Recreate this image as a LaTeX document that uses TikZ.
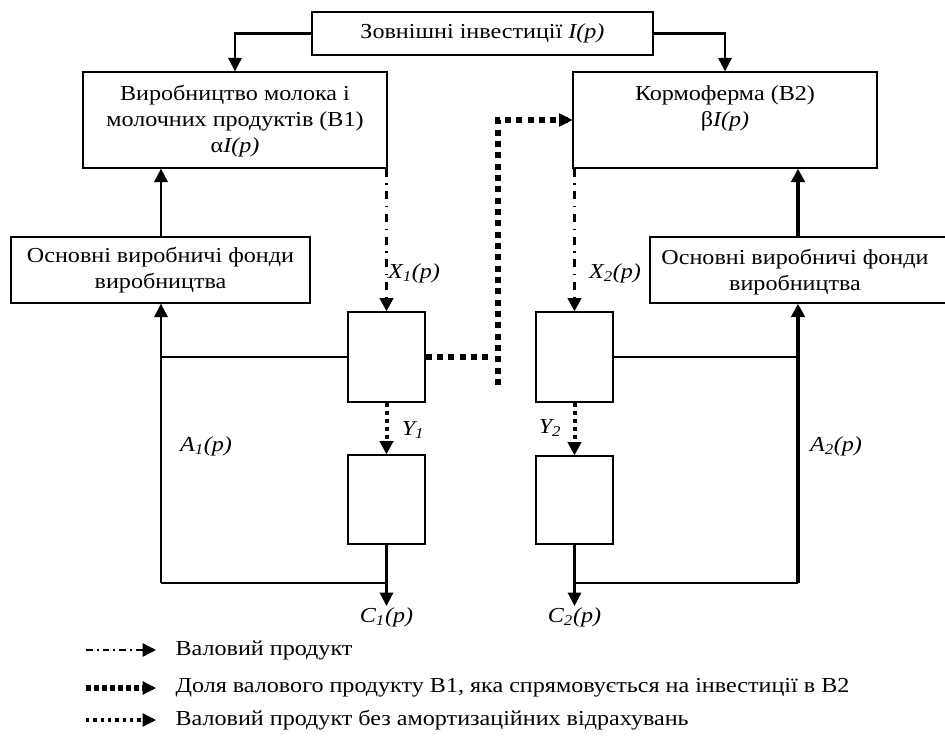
\documentclass[tikz,border=0pt]{standalone}
\usepackage{fontspec}
\setmainfont[FakeStretch=1.13]{Liberation Serif}
\usetikzlibrary{arrows.meta}
\begin{document}
\begin{tikzpicture}[x=0.75pt,y=-0.75pt,
  font=\fontsize{16}{19.5}\selectfont,
  box/.style={draw,line width=1pt,inner sep=0pt},
  lbl/.style={inner sep=1pt},
  tip/.style={-{Triangle[length=10pt,width=10pt]}},
  plainln/.style={line width=1.2pt},
  arr/.style={tip,line width=1.6pt},
  thickarr/.style={tip,line width=3pt},
  gross/.style={tip,line width=2.4pt,dash pattern=on 6pt off 5pt on 1pt off 5pt},
  share/.style={line width=4.5pt,dash pattern=on 4.5pt off 4pt},
  dotln/.style={tip,line width=3pt,dash pattern=on 3pt off 3pt},
]
\useasboundingbox (0,0) rectangle (945,735);

% boxes
\node[box,minimum width=255.75pt,minimum height=32.25pt] (top) at (482.5,33.5) {Зовнішні інвестиції \textit{I(p)}};
\node[box,minimum width=228pt,minimum height=72pt] (b1) at (235,120) {};
\node[align=center,lbl] (b1t) at (235,121) {Виробництво молока і\\молочних продуктів (В1)\\α\textit{I(p)}};
\node[box,minimum width=228pt,minimum height=72pt] (b2) at (725,120) {};
\node[align=center,lbl,anchor=north] (b2t) at (725,84) {Кормоферма (В2)\\β\textit{I(p)}};
\node[box,minimum width=224.25pt,minimum height=49.5pt,align=center] (ovf1) at (160.5,270) {Основні виробничі фонди\\виробництва};
\node[box,minimum width=225pt,minimum height=49.5pt] (ovf2) at (800,270) {};
\node[align=center,lbl] (ovf2t) at (795,272) {Основні виробничі фонди\\виробництва};
\node[box,minimum width=57.75pt,minimum height=67.5pt] (sb1) at (386.5,357) {};
\node[box,minimum width=57.75pt,minimum height=66.75pt] (lb1) at (386.5,499.5) {};
\node[box,minimum width=57.75pt,minimum height=67.5pt] (sb2) at (574.5,357) {};
\node[box,minimum width=57.75pt,minimum height=66pt] (lb2) at (574.5,500) {};

% labels
\node[lbl] (x1) at (414,273) {\textit{X\textsubscript{1}(p)}};
\node[lbl] (x2) at (615,273) {\textit{X\textsubscript{2}(p)}};
\node[lbl] (y1) at (413,430) {\textit{Y\textsubscript{1}}};
\node[lbl] (y2) at (550,428) {\textit{Y\textsubscript{2}}};
\node[lbl] (a1) at (206,446) {\textit{A\textsubscript{1}(p)}};
\node[lbl] (a2) at (836,446) {\textit{A\textsubscript{2}(p)}};
\node[lbl,anchor=north] (c1) at (386.5,606) {\textit{C\textsubscript{1}(p)}};
\node[lbl,anchor=north] (c2) at (574.5,606) {\textit{C\textsubscript{2}(p)}};

\coordinate (l) at (161,583);
\coordinate (r) at (798,583);
\coordinate (sh1) at (490,357);
\coordinate (sh2) at (498,385);

% investments
\draw[arr] (top.west) -| (b1.north);
\draw[arr] (top.east) -| (b2.north);

% left side
\draw[arr] (ovf1.north -| l) -- (b1.south -| l);
\draw[gross] (sb1.north |- b1.south) -- (sb1.north);
\draw[dotln] (sb1.south) -- (lb1.north);
\draw[plainln] (sb1.west) -- (sb1.west -| l);
\draw[plainln] (l) -- (lb1.south |- l);
\draw[arr] (l) -- (ovf1.south -| l);
\draw[arr] (lb1.south) -- (c1.north);

% right side
\draw[thickarr] (ovf2.north -| r) -- (b2.south -| r);
\draw[gross] (sb2.north |- b2.south) -- (sb2.north);
\draw[dotln] (sb2.south) -- (lb2.north);
\draw[plainln] (sb2.east) -- (sb2.east -| r);
\draw[plainln] (lb2.south |- r) -- (r);
\draw[thickarr] (r) -- (ovf2.south -| r);
\draw[arr] (lb2.south) -- (c2.north);

% share B1 -> B2
\draw[share] (sb1.east) -- (sh1);
\draw[share] (sh2) |- (b2.west);
\draw[-{Triangle[length=10pt,width=10pt]},line width=1pt] ([xshift=-8pt]b2.west) -- (b2.west);

% legend
\coordinate (g1s) at (86,650); \coordinate (g1e) at (156,650);
\coordinate (g2s) at (86,688); \coordinate (g2e) at (156,688);
\coordinate (g3s) at (86,720); \coordinate (g3e) at (156,720);
\draw[tip,line width=1.1pt,dash pattern=on 5pt off 3pt on 1.5pt off 3pt] (g1s) -- (g1e);
\draw[line width=4pt,dash pattern=on 3.5pt off 2.5pt] (g2s) -- ([xshift=-7pt]g2e);
\draw[tip,line width=1pt] ([xshift=-8pt]g2e) -- (g2e);
\draw[line width=3pt,dash pattern=on 2.5pt off 3pt] (g3s) -- ([xshift=-7pt]g3e);
\draw[tip,line width=1pt] ([xshift=-8pt]g3e) -- (g3e);
\node[lbl,anchor=west] (t1) at (174,650) {Валовий продукт};
\node[lbl,anchor=west] (t2) at (174,688) {Доля валового продукту В1, яка спрямовується на інвестиції в В2};
\node[lbl,anchor=west] (t3) at (174,720) {Валовий продукт без амортизаційних відрахувань};
\end{tikzpicture}
\end{document}
